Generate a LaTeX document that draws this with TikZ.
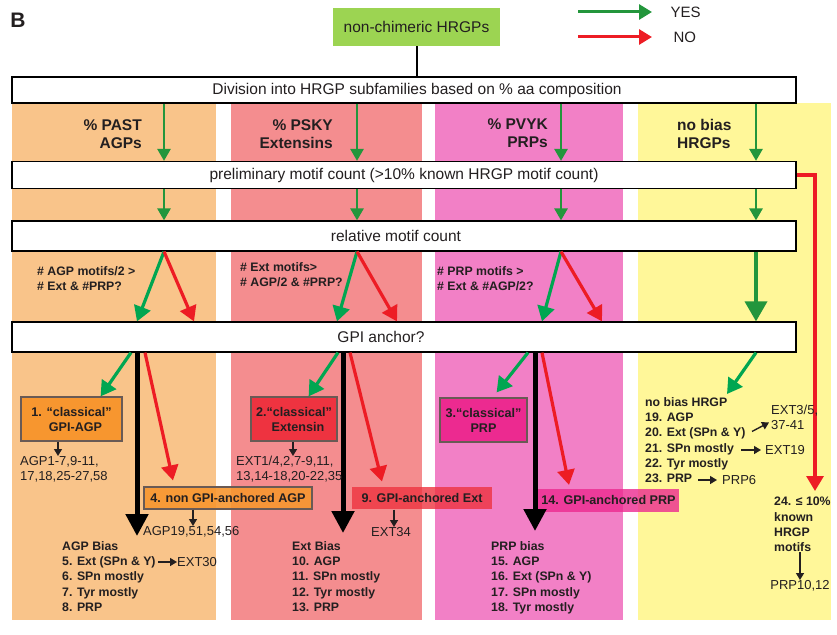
\documentclass[tikz,border=0pt]{standalone}
\usepackage{fontspec}
\setmainfont{Liberation Sans}
\usetikzlibrary{arrows.meta,positioning,calc}

\definecolor{boxgreen}{RGB}{156,212,82}
\definecolor{yesgreen}{RGB}{35,150,60}
\definecolor{yesbright}{RGB}{0,166,81}
\definecolor{nored}{RGB}{237,28,36}
\definecolor{colagp}{RGB}{249,196,138}
\definecolor{colext}{RGB}{244,141,143}
\definecolor{colprp}{RGB}{242,128,198}
\definecolor{colnob}{RGB}{255,247,153}
\definecolor{fillagp}{RGB}{247,150,47}
\definecolor{fillext}{RGB}{238,51,64}
\definecolor{fillprp}{RGB}{236,42,144}
\definecolor{edgegray}{RGB}{105,90,85}
\definecolor{txtgray}{RGB}{35,31,32}

\tikzset{
  stagebox/.style={draw=black, line width=1.2pt, fill=white, minimum width=784pt, inner sep=0pt, font=\fontsize{15.5}{18}\selectfont},
  yesarr/.style={draw=yesgreen, line width=2.6pt, -{Triangle[width=13pt,length=12pt]}},
  yesbig/.style={draw=yesgreen, line width=3.6pt, -{Triangle[width=22pt,length=20pt]}},
  yesdiag/.style={draw=yesbright, line width=3.2pt, -{Triangle[width=17pt,length=15pt]}},
  noarr/.style={draw=nored, line width=3.2pt, -{Triangle[width=17pt,length=15pt]}},
  legyes/.style={draw=yesgreen, line width=3pt, -{Triangle[width=15pt,length=13pt]}},
  legno/.style={draw=nored, line width=3pt, -{Triangle[width=15pt,length=13pt]}},
  allarr/.style={draw=black, line width=5pt, -{Triangle[width=22pt,length=22pt]}},
  smallarr/.style={draw=txtgray, line width=1.4pt, -{Triangle[width=8pt,length=7pt]}},
  classbox/.style={draw=edgegray, line width=1.2pt, align=center, inner sep=0pt, font=\bfseries\fontsize{12.6}{15}\selectfont},
  hdr/.style={inner sep=0pt, font=\bfseries\fontsize{15.5}{18}\selectfont},
  cond/.style={anchor=north west, align=left, inner sep=0pt, font=\bfseries\fontsize{12.3}{15.5}\selectfont},
  outlist/.style={anchor=north west, align=left, inner sep=0pt, font=\bfseries\fontsize{12.3}{15.3}\selectfont},
  ids/.style={anchor=north west, align=left, inner sep=0pt, font=\fontsize{13}{15}\selectfont},
}

\begin{document}
\begin{tikzpicture}[x=1pt, y=-1pt, every node/.style={text=txtgray}]
\useasboundingbox (0,0) rectangle (837,634);

% column backgrounds
\fill[colagp] (12,103) rectangle (216,620);
\fill[colext] (231,103) rectangle (422,620);
\fill[colprp] (435,103) rectangle (623,620);
\fill[colnob] (638,103) rectangle (831,620);

\coordinate (c1) at (164,0);
\coordinate (c2) at (357,0);
\coordinate (c3) at (561,0);
\coordinate (c4) at (756,0);

\node[font=\bfseries\fontsize{21}{24}\selectfont] (lbl) at (18,20) {B};
\node[fill=boxgreen, minimum width=167pt, minimum height=38pt, inner sep=0pt, font=\fontsize{15.5}{18}\selectfont] (src) at (416.5,27) {non-chimeric HRGPs};

% legend
\node[anchor=west, font=\fontsize{15}{17}\selectfont] (yes) at (667,12) {YES};
\node[anchor=west, font=\fontsize{15}{17}\selectfont] (no) at (670,37) {NO};
\draw[legyes] ([xshift=-89pt]yes.west) -- ([xshift=-15pt]yes.west);
\draw[legno] ([xshift=-92pt]no.west) -- ([xshift=-18pt]no.west);

% stages
\node[stagebox, minimum height=26pt] (div) at (404,90) {\hspace*{26pt}Division into HRGP subfamilies based on \% aa composition};
\node[stagebox, minimum height=27pt] (prelim) at (404,175) {preliminary motif count (>10\% known HRGP motif count)};
\node[stagebox, minimum height=30pt] (rel) at (404,236) {\hspace*{-16pt}relative motif count};
\node[stagebox, minimum height=30pt] (gpi) at (404,337) {\hspace*{-46pt}GPI anchor?};
\draw[line width=2pt] (src.south) -- (src.south |- div.north);

% subfamily headers
\node[hdr, anchor=north east, align=right] (hdr1) at (142,119) {\% PAST\\AGPs};
\node[hdr, anchor=north east, align=right] (hdr2) at (333,119) {\% PSKY\\Extensins};
\node[hdr, anchor=north east, align=right] (hdr3) at (548,119) {\% PVYK\\PRPs};
\node[hdr, anchor=north west, align=left] (hdr4) at (677,119) {no bias\\HRGPs};

\draw[yesarr] (div.south -| c1) -- (prelim.north -| c1);
\draw[yesarr] (div.south -| c2) -- (prelim.north -| c2);
\draw[yesarr] (div.south -| c3) -- (prelim.north -| c3);
\draw[yesarr] (div.south -| c4) -- (prelim.north -| c4);
\draw[yesarr] (prelim.south -| c1) -- (rel.north -| c1);
\draw[yesarr] (prelim.south -| c2) -- (rel.north -| c2);
\draw[yesarr] (prelim.south -| c3) -- (rel.north -| c3);
\draw[yesarr] (prelim.south -| c4) -- (rel.north -| c4);

% relative motif count
\node[cond] (cnd1) at (37,266) {\# AGP motifs/2 >\\\# Ext \& \#PRP?};
\node[cond] (cnd2) at (240,262) {\# Ext motifs>\\\# AGP/2 \& \#PRP?};
\node[cond] (cnd3) at (437,266) {\# PRP motifs >\\\# Ext \& \#AGP/2?};
\draw[yesdiag] (rel.south -| c1) -- (gpi.north -| 137,0);
\draw[noarr] (rel.south -| c1) -- (gpi.north -| 194,0);
\draw[yesdiag] (rel.south -| c2) -- (gpi.north -| 337,0);
\draw[noarr] (rel.south -| c2) -- (gpi.north -| 397,0);
\draw[yesdiag] (rel.south -| c3) -- (gpi.north -| 542,0);
\draw[noarr] (rel.south -| c3) -- (gpi.north -| 602,0);
\draw[yesbig] (rel.south -| c4) -- (gpi.north -| c4);

% too few motifs
\coordinate (redend) at (815,491);
\draw[noarr] (prelim.east) -| (redend);

% outcomes
\node[classbox, fill=fillagp, minimum width=101pt, minimum height=44pt] (cls1) at (71.5,419) {1. “classical”\\\hspace*{8pt}GPI-AGP};
\node[classbox, fill=fillext, minimum width=86pt, minimum height=44pt] (cls2) at (294,419) {2.“classical”\\\hspace*{8pt}Extensin};
\node[classbox, fill=fillprp, minimum width=87pt, minimum height=44pt] (cls3) at (483.5,420) {3.“classical”\\PRP};
\node[classbox, fill=fillagp, fill opacity=0.9, text opacity=1, minimum width=168pt, minimum height=22pt] (nogpi1) at (228,498) {4. non GPI-anchored AGP};
\node[classbox, draw=none, fill=fillext, fill opacity=0.8, text opacity=1, minimum width=140pt, minimum height=22pt] (gpi2) at (422,498) {9. GPI-anchored Ext};
\node[classbox, draw=none, fill=fillprp, fill opacity=0.8, text opacity=1, minimum width=141pt, minimum height=23pt] (gpi3) at (608.5,500) {14. GPI-anchored PRP};

\coordinate (down1) at (137,536);
\coordinate (down2) at (343,533);
\coordinate (down3) at (535,531);
\draw[yesdiag] (gpi.south -| 131,0) -- ([xshift=-22pt]cls1.north east);
\draw[allarr] (gpi.south -| down1) -- (down1);
\draw[noarr] (gpi.south -| 145,0) -- ([shift={(-55pt,6pt)}]nogpi1.north);
\draw[yesdiag] (gpi.south -| 338,0) -- ([xshift=-29pt]cls2.north east);
\draw[allarr] (gpi.south -| down2) -- (down2);
\draw[noarr] (gpi.south -| 350,0) -- ([shift={(-40pt,5pt)}]gpi2.north);
\draw[yesdiag] (gpi.south -| 528,0) -- ([shift={(-31pt,5pt)}]cls3.north east);
\draw[allarr] (gpi.south -| down3) -- (down3);
\draw[noarr] (gpi.south -| 542,0) -- ([shift={(-39.5pt,3pt)}]gpi3.north);
\draw[yesdiag] (gpi.south -| c4) -- (727,394);

% accessions
\node[ids] (ids1) at (20,456) {AGP1-7,9-11,\\17,18,25-27,58};
\node[ids] (ids2) at (236,456) {EXT1/4,2,7-9,11,\\13,14-18,20-22,35};
\node[ids] (ids4) at (143,526) {AGP19,51,54,56};
\node[ids] (ids9) at (371,527) {EXT34};
\draw[smallarr] (cls1.south -| 58,0) -- (ids1.north -| 58,0);
\draw[smallarr] (cls2.south -| 293,0) -- (ids2.north -| 293,0);
\draw[smallarr] (nogpi1.south -| 193,0) -- (ids4.north -| 193,0);
\draw[smallarr] (gpi2.south -| 394,0) -- (ids9.north -| 394,0);

% bias lists
\node[outlist] (bias1) at (62,541) {AGP Bias\\5. Ext (SPn \& Y)\\6. SPn mostly\\7. Tyr mostly\\8. PRP};
\node[outlist] (bias2) at (292,541) {Ext Bias\\10. AGP\\11. SPn mostly\\12. Tyr mostly\\13. PRP};
\node[outlist] (bias3) at (491,541) {PRP bias\\15. AGP\\16. Ext (SPn \& Y)\\17. SPn mostly\\18. Tyr mostly};
\node[outlist] (bias4) at (645,397) {no bias HRGP\\19. AGP\\20. Ext (SPn \& Y)\\21. SPn mostly\\22. Tyr mostly\\23. PRP};
\node[outlist] (low) at (774,497) {24. ≤ 10\%\\known\\HRGP\\motifs};

\node[ids, anchor=west] (ext30) at (177,562) {EXT30};
\node[ids] (ext35) at (771,405) {EXT3/5,\\37-41};
\node[ids, anchor=west] (ext19) at (765,450) {EXT19};
\node[ids, anchor=west] (prp6) at (722,480) {PRP6};
\node[ids, anchor=north] (prp1012) at (800,580) {PRP10,12};
\draw[smallarr] ([xshift=-19pt]ext30.west) -- (ext30.west);
\draw[smallarr] ([shift={(-19pt,-14pt)}]ext35.west) -- ([shift={(-2pt,-5pt)}]ext35.west);
\draw[smallarr] ([xshift=-24pt]ext19.west) -- ([xshift=-4pt]ext19.west);
\draw[smallarr] ([xshift=-24pt]prp6.west) -- ([xshift=-5pt]prp6.west);
\draw[smallarr] (low.south -| prp1012.north) -- (prp1012.north);
\end{tikzpicture}
\end{document}
